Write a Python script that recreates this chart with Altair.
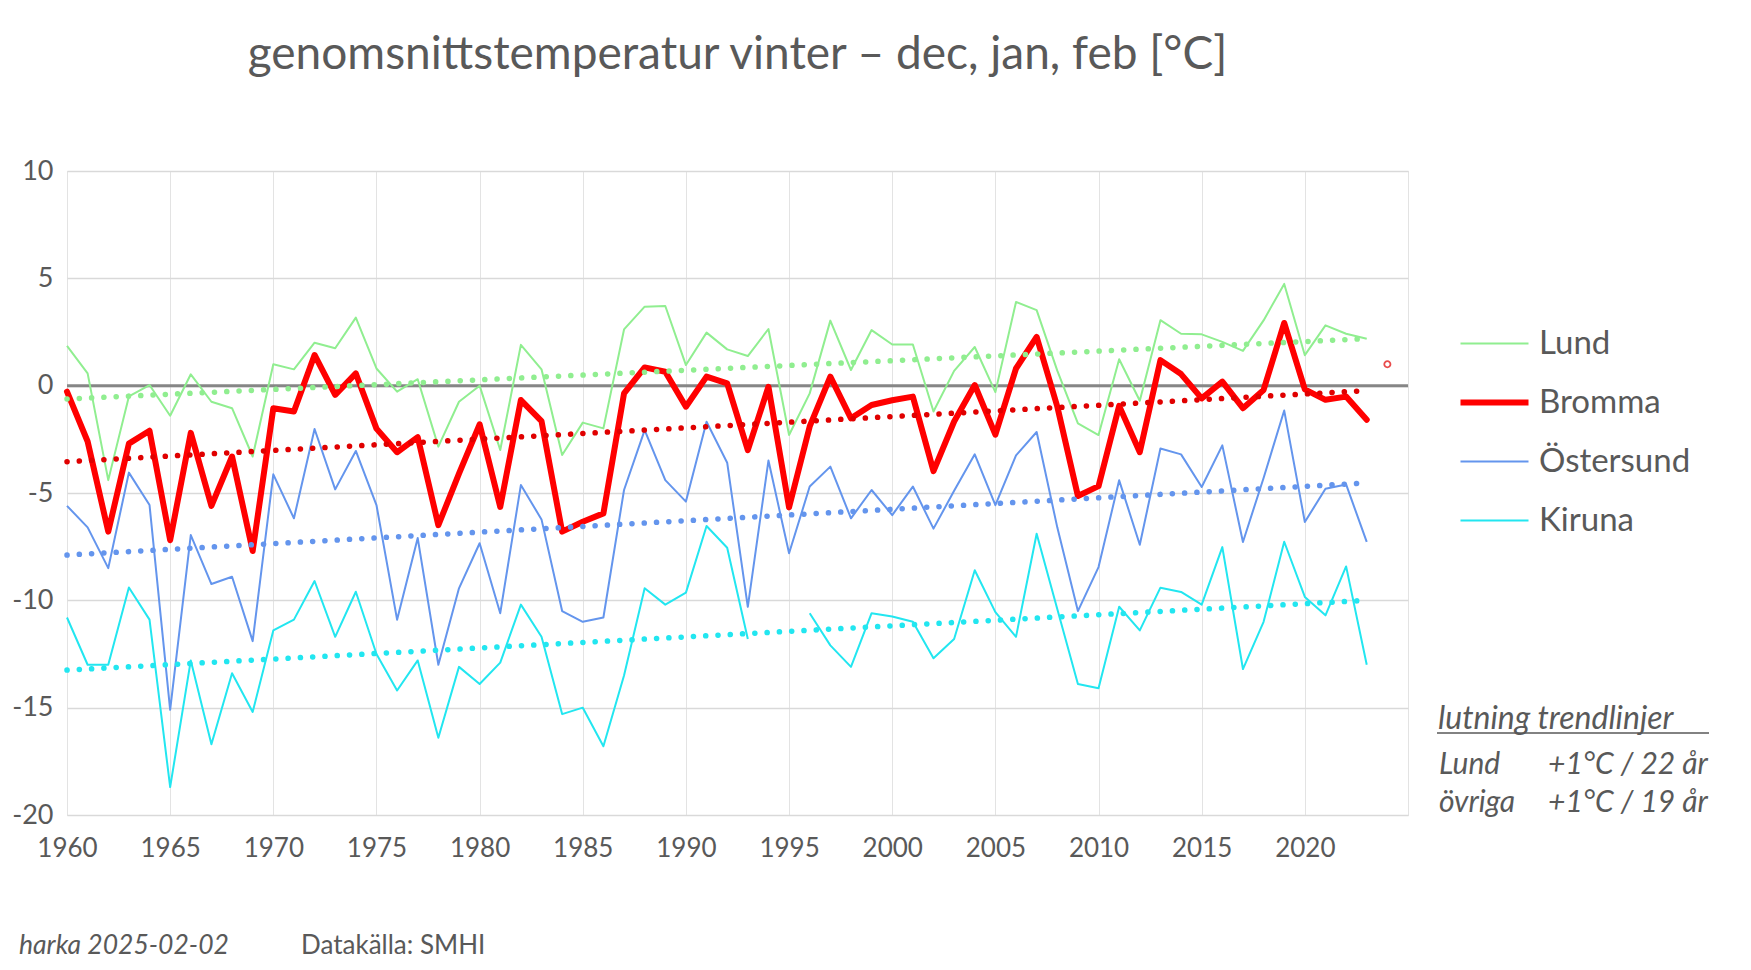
import altair as alt
import pandas as pd

# winter means (dec, jan, feb)
years = list(range(1960, 2024))
stations = ["Lund", "Bromma", "Östersund", "Kiruna"]

lund = [1.85, 0.57, -4.4, -0.5, 0.03, -1.4, 0.53, -0.75, -1.05, -3.3,
        1.0, 0.76, 2.0, 1.74, 3.17, 0.8, -0.28, 0.3, -2.84, -0.75,
        0.0, -3.0, 1.9, 0.76, -3.23, -1.72, -1.99, 2.62, 3.68, 3.71,
        0.96, 2.47, 1.69, 1.38, 2.64, -2.3, -0.36, 3.03, 0.73, 2.59,
        1.92, 1.92, -1.2, 0.69, 1.8, -0.3, 3.9, 3.52, 0.7, -1.76,
        -2.3, 1.23, -0.7, 3.05, 2.42, 2.39, 2.04, 1.62, 3.04, 4.74,
        1.42, 2.81, 2.42, 2.19]
bromma = [-0.28, -2.6, -6.8, -2.7, -2.1, -7.2, -2.2, -5.6, -3.3, -7.7,
          -1.05, -1.2, 1.43, -0.43, 0.57, -2.0, -3.1, -2.4, -6.5, -4.1,
          -1.8, -5.65, -0.67, -1.65, -6.8, -6.34, -5.95, -0.36, 0.85, 0.65,
          -0.98, 0.42, 0.11, -3.0, -0.05, -5.67, -1.9, 0.42, -1.52, -0.9,
          -0.68, -0.51, -3.98, -1.67, 0.03, -2.28, 0.8, 2.27, -0.97, -5.14,
          -4.68, -0.94, -3.1, 1.19, 0.54, -0.59, 0.19, -1.05, -0.2, 2.92,
          -0.17, -0.66, -0.51, -1.59]
ostersund = [-5.6, -6.6, -8.5, -4.05, -5.56, -15.1, -6.96, -9.24, -8.9, -11.9,
             -4.13, -6.18, -2.02, -4.83, -3.04, -5.56, -10.9, -7.1, -13.0, -9.44,
             -7.34, -10.6, -4.63, -6.23, -10.5, -11.0, -10.8, -4.86, -2.07, -4.4,
             -5.4, -1.68, -3.59, -10.3, -3.49, -7.81, -4.7, -3.77, -6.18, -4.86,
             -6.03, -4.7, -6.66, -4.9, -3.2, -5.57, -3.25, -2.16, -6.6, -10.5,
             -8.45, -4.41, -7.41, -2.93, -3.2, -4.72, -2.78, -7.28, -4.3, -1.16,
             -6.35, -4.8, -4.6, -7.28]
kiruna = [-10.8, -13.0, -13.0, -9.4, -10.9, -18.7, -12.8, -16.7, -13.4, -15.2,
          -11.4, -10.9, -9.1, -11.7, -9.6, -12.5, -14.2, -12.8, -16.4, -13.1,
          -13.9, -12.9, -10.2, -11.7, -15.3, -15.0, -16.8, -13.5, -9.44, -10.2,
          -9.64, -6.54, -7.55, -11.8, None, None, -10.6, -12.1, -13.1, -10.6,
          -10.75, -11.0, -12.7, -11.8, -8.6, -10.55, -11.7, -6.9, -10.4, -13.9,
          -14.1, -10.3, -11.4, -9.41, -9.61, -10.2, -7.52, -13.2, -11.0, -7.27,
          -9.84, -10.7, -8.42, -13.0]

# dotted trend lines, ends
trend_years = [1960, 2023]
trend_start = [-0.62, -3.54, -7.89, -13.25]
trend_end = [2.19, -0.23, -4.53, -10.0]

# the lone marker right of the Bromma series
extra_year = [2024]
extra_temp = [1.0]

line_colors = ["#90ee90", "#ff0000", "#6495ed", "#22e6f0"]
line_widths = [2, 6, 2, 2]
trend_colors = ["#90ee90", "#e00000", "#6495ed", "#22e6f0"]

title_text = "genomsnittstemperatur vinter – dec, jan, feb [°C]"
note_head = ["lutning trendlinjer"]
note_names = ["Lund", "övriga"]
note_slopes = ["+1°C / 22 år", "+1°C / 19 år"]
credit = ["harka 2025-02-02"]
source = ["Datakälla: SMHI"]

FONT = "Lato"
GREY = "#595959"

rows = []
for name, vals in zip(stations, [lund, bromma, ostersund, kiruna]):
    seg = 0
    for yr, v in zip(years, vals):
        if v is None:
            seg += 1
            continue
        rows.append({"year": yr, "temp": v, "station": name, "seg": seg})
df = pd.DataFrame(rows)

trend_rows = []
for name, a, b in zip(stations, trend_start, trend_end):
    trend_rows.append({"year": trend_years[0], "temp": a, "station": name})
    trend_rows.append({"year": trend_years[1], "temp": b, "station": name})
trend_df = pd.DataFrame(trend_rows)

x = alt.X("year:Q",
          scale=alt.Scale(domain=[1960, 2025], nice=False, zero=False),
          axis=alt.Axis(values=list(range(1960, 2026, 5)), title=None,
                        labelExpr="datum.value > 2020 ? '' : '' + datum.value",
                        labelFont=FONT, labelFontSize=26, labelColor=GREY,
                        labelFlush=False, labelPadding=20, ticks=False,
                        tickSize=0, domain=False,
                        gridColor="#e3e3e3", gridWidth=1))
y = alt.Y("temp:Q",
          scale=alt.Scale(domain=[-20, 10], nice=False, zero=False),
          axis=alt.Axis(values=list(range(-20, 11, 5)), title=None,
                        labelExpr="'' + datum.value",
                        labelFont=FONT, labelFontSize=27, labelColor=GREY,
                        labelFlush=False, labelPadding=14, ticks=False,
                        tickSize=0, domain=False,
                        gridColor="#d9d9d9", gridWidth=1.5))

legend = alt.Legend(
    title=None, orient="none", legendX=1411, legendY=156, padding=0,
    symbolType="M-3,0H3", symbolSize=514,
    labelFont=FONT, labelFontSize=33, labelColor=GREY, labelOffset=28,
    rowPadding=25)
color = alt.Color("station:N",
                  scale=alt.Scale(domain=stations, range=line_colors),
                  legend=legend)
width = alt.StrokeWidth("station:N",
                        scale=alt.Scale(type="ordinal", domain=stations,
                                        range=line_widths),
                        legend=legend)

zero = alt.Chart(pd.DataFrame({"temp": [0]})).mark_rule(
    color="#868686", strokeWidth=3).encode(y=y)

thin = alt.Chart(df[df.station != "Bromma"]).mark_line(
    strokeJoin="round").encode(x=x, y=y, color=color, strokeWidth=width,
                               detail="seg:N")
thick = alt.Chart(df[df.station == "Bromma"]).mark_line(
    strokeJoin="round", strokeCap="round").encode(
    x=x, y=y, color=color, strokeWidth=width)

trends = []
for name, c in zip(stations, trend_colors):
    trends.append(
        alt.Chart(trend_df).transform_filter(alt.datum.station == name)
        .mark_line(color=c, strokeWidth=5.5, strokeDash=[0.1, 12.2],
                   strokeCap="round")
        .encode(x=x, y=y))

extra = alt.Chart(pd.DataFrame({"year": extra_year, "temp": extra_temp})).mark_point(
    shape="circle", filled=False, color="#e00000", size=38, strokeWidth=1.8
).encode(x=x, y=y)

def label(values, px, py, italic=False, size=28):
    return alt.Chart(pd.DataFrame({"t": values})).mark_text(
        font=FONT, fontSize=size, color=GREY, align="left",
        baseline="alphabetic", fontStyle="italic" if italic else "normal"
    ).encode(x=alt.value(px), y=alt.value(py), text="t:N")

notes = [
    label(note_head, 1371, 558, italic=True, size=32),
    label(note_names[:1], 1372, 603, italic=True, size=30),
    label(note_slopes[:1], 1481, 603, italic=True, size=30),
    label(note_names[1:], 1372, 641, italic=True, size=30),
    label(note_slopes[1:], 1481, 641, italic=True, size=30),
    label(credit, -48, 783, italic=True, size=26.5),
    label(source, 234, 783, size=26),
]
underline = alt.Chart(pd.DataFrame({"u": [0]})).mark_rule(
    color=GREY, strokeWidth=1.5).encode(
    x=alt.value(1370), x2=alt.value(1642), y=alt.value(562))

chart = alt.layer(zero, thin, thick, *trends, extra, *notes, underline).properties(
    width=1341, height=644,
    autosize=alt.AutoSizeParams(type="none"),
    padding={"left": 59, "top": 163, "right": 335, "bottom": 147},
    title=alt.TitleParams(text=title_text, font=FONT, fontSize=46,
                          fontWeight="normal", color=GREY, anchor="middle",
                          offset=78),
).configure_view(stroke=None).configure(background="white")

chart.save("out.html", embed_options={"renderer": "svg", "actions": False})
